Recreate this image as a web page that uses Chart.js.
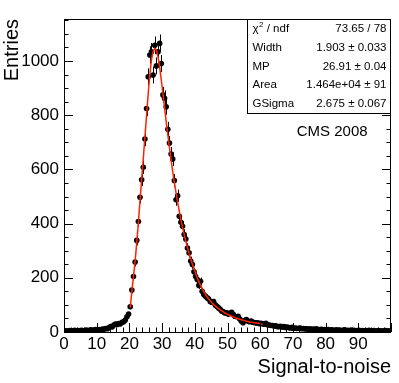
<!DOCTYPE html>
<html>
<head>
<meta charset="utf-8">
<script src="https://cdn.jsdelivr.net/npm/chart.js@4.4.1/dist/chart.umd.min.js"></script>
<style>
  html, body { margin: 0; padding: 0; background: #fff; }
  canvas { display: block; }
</style>
</head>
<body>
<canvas id="chart" width="399" height="383"></canvas>
<script>
// histogram: 200 bins of width 0.5 between 0 and 100
const xMin = 0;
const binWidth = 0.5;
const counts = [
    3, 4, 2, 5, 3, 4, 6, 3, 5, 4, 6, 5, 4, 7, 5, 6, 8, 6, 7, 9,
    7, 9, 8, 11, 10, 13, 12, 16, 20, 19, 26, 29, 28, 31, 30, 36, 38, 44, 56, 66,
    93, 155, 205, 258, 338, 408, 497, 562, 608, 712, 825, 942, 1022, 1034, 948, 1058, 982, 1034, 1065, 991,
    875, 862, 831, 748, 697, 657, 638, 559, 488, 503, 427, 405, 390, 360, 343, 310, 292, 262, 249, 222,
    205, 194, 172, 187, 150, 138, 132, 126, 122, 112, 110, 112, 100, 95, 89, 84, 77, 75, 70, 71,
    66, 70, 73, 65, 58, 56, 58, 48, 40, 34, 42, 46, 40, 38, 40, 36, 35, 33, 34, 31,
    32, 30, 29, 32, 27, 26, 24, 24, 22, 23, 20, 20, 21, 18, 20, 17, 18, 16, 15, 17,
    14, 15, 13, 14, 15, 12, 13, 11, 12, 10, 12, 9, 11, 10, 12, 8, 9, 10, 8, 9,
    7, 9, 6, 8, 7, 5, 8, 6, 7, 5, 6, 8, 5, 6, 4, 7, 5, 6, 4, 5,
    6, 4, 5, 3, 5, 4, 6, 3, 4, 5, 3, 4, 5, 3, 4, 3, 5, 3, 4, 3
];

// fitted Landau x Gauss curve, sampled at bin centres from bin 40 (x = 20.25)
const fitFirstBin = 40;
const fitValues = [
    90, 150, 205, 262, 330, 405, 485, 565, 640, 720,
    800, 880, 950, 1005, 1035, 1046, 1040, 1015, 978, 930,
    880, 828, 776, 727, 680, 635, 592, 552, 514, 479,
    446, 415, 386, 360, 335, 312, 290, 270, 251, 233,
    216, 200, 186, 172, 160, 149, 139, 130, 122, 114,
    107, 101, 96, 91, 86, 82, 78, 74, 70, 67,
    64, 61, 58, 56, 53, 51, 49, 47, 45, 43,
    42, 40, 39, 37, 36, 35, 34, 33, 32, 31,
    30, 29
];

const xTickLabels = ['0', '10', '20', '30', '40', '50', '60', '70', '80', '90'];
const yTickLabels = ['0', '200', '400', '600', '800', '1000'];

const statNames = ['\u03C7', 'Width', 'MP', 'Area', 'GSigma'];
const statValues = ['73.65 / 78', '1.903 \u00B1 0.033', '26.91 \u00B1 0.04', '1.464e+04 \u00B1 91', '2.675 \u00B1 0.067'];

const FONT = '"Liberation Sans", Arial, Helvetica, sans-serif';

function binCentre(i) {
    return xMin + (i + 0.5) * binWidth;
}

const histPoints = counts.map((c, i) => ({ x: binCentre(i), y: c }));
const fitPoints = fitValues.map((v, i) => ({ x: binCentre(fitFirstBin + i), y: v }));

// vertical sqrt(N) error bars, drawn under the markers
const errorBars = {
    id: 'errorBars',
    beforeDatasetsDraw(chart) {
        const ctx = chart.ctx;
        const xs = chart.scales.x, ys = chart.scales.y;
        ctx.save();
        ctx.strokeStyle = '#000';
        ctx.lineWidth = 1;
        ctx.beginPath();
        histPoints.forEach(p => {
            const e = Math.sqrt(p.y);
            const px = Math.round(xs.getPixelForValue(p.x)) + 0.5;
            ctx.moveTo(px, ys.getPixelForValue(Math.max(0, p.y - e)));
            ctx.lineTo(px, ys.getPixelForValue(p.y + e));
        });
        ctx.stroke();
        ctx.restore();
    }
};

// ROOT style frame with inward ticks, stats box and label
const rootFrame = {
    id: 'rootFrame',
    afterDraw(chart) {
        const ctx = chart.ctx;
        const a = chart.chartArea;
        const xs = chart.scales.x, ys = chart.scales.y;
        ctx.save();
        ctx.strokeStyle = '#000';
        ctx.lineWidth = 1;
        ctx.beginPath();
        // x ticks along the bottom
        for (let v = 0; v <= 100; v += 2) {
            const px = Math.round(xs.getPixelForValue(v)) + 0.5;
            const len = v % 10 === 0 ? 9 : 4.5;
            ctx.moveTo(px, a.bottom);
            ctx.lineTo(px, a.bottom - len);
        }
        // y ticks on left and right
        for (let v = 0; v <= 1150; v += 50) {
            const py = Math.round(ys.getPixelForValue(v)) + 0.5;
            const len = v % 200 === 0 ? 9 : 4.5;
            ctx.moveTo(a.left, py);
            ctx.lineTo(a.left + len, py);
            ctx.moveTo(a.right, py);
            ctx.lineTo(a.right - len, py);
        }
        ctx.stroke();
        ctx.strokeRect(Math.round(a.left) + 0.5, Math.round(a.top) + 0.5,
            Math.round(a.right - a.left) - 1, Math.round(a.bottom - a.top));

        // stats box
        const bw = 144, bh = 94;
        const bx = Math.round(a.right - bw) + 0.5, by = Math.round(a.top) + 0.5;
        ctx.fillStyle = '#fff';
        ctx.fillRect(bx, by, bw - 1, bh);
        ctx.strokeRect(bx, by, bw - 1, bh);
        ctx.fillStyle = '#000';
        ctx.textBaseline = 'middle';
        const rowH = bh / 5;
        statNames.forEach((name, i) => {
            const ty = by + rowH * (i + 0.5);
            ctx.font = '11.5px ' + FONT;
            ctx.textAlign = 'left';
            ctx.fillText(name, bx + 5, ty);
            if (i === 0) {
                const w = ctx.measureText(name).width;
                ctx.font = '8px ' + FONT;
                ctx.fillText('2', bx + 5 + w + 0.5, ty - 4);
                ctx.font = '11.5px ' + FONT;
                ctx.fillText(' / ndf', bx + 5 + w + 5, ty);
            }
            ctx.textAlign = 'right';
            ctx.fillText(statValues[i], bx + bw - 5, ty);
        });

        // experiment label
        ctx.font = '15px ' + FONT;
        ctx.textAlign = 'center';
        ctx.fillText('CMS 2008', a.left + (a.right - a.left) * 0.82, a.top + (a.bottom - a.top) * 0.36);
        ctx.restore();
    }
};

new Chart(document.getElementById('chart'), {
    type: 'scatter',
    data: {
        datasets: [{
            label: 'fit',
            type: 'line',
            data: fitPoints,
            borderColor: '#ff2200',
            borderWidth: 1.5,
            pointRadius: 0,
            fill: false,
            tension: 0,
            order: 0
        }, {
            label: 'entries',
            data: histPoints,
            backgroundColor: '#000',
            borderColor: '#000',
            pointRadius: 2.8,
            pointBorderWidth: 0,
            order: 1
        }]
    },
    options: {
        responsive: false,
        animation: false,
        devicePixelRatio: 1,
        layout: { padding: { top: 19, right: 8, left: 0, bottom: 0 } },
        plugins: {
            legend: { display: false },
            tooltip: { enabled: false }
        },
        scales: {
            x: {
                type: 'linear',
                min: 0,
                max: 100,
                afterFit: s => { s.height = 51; },
                grid: { display: false, drawTicks: false },
                border: { display: false },
                ticks: {
                    stepSize: 10,
                    autoSkip: false,
                    maxRotation: 0,
                    padding: 2,
                    color: '#000',
                    font: { family: FONT, size: 17 },
                    callback: (v, i) => xTickLabels[i] ?? ''
                },
                title: {
                    display: true,
                    text: 'Signal-to-noise',
                    align: 'end',
                    color: '#000',
                    font: { family: FONT, size: 20 },
                    padding: { top: 0, bottom: 4 }
                }
            },
            y: {
                type: 'linear',
                min: 0,
                max: 1155,
                afterFit: s => { s.width = 64; },
                grid: { display: false, drawTicks: false },
                border: { display: false },
                ticks: {
                    stepSize: 200,
                    includeBounds: false,
                    padding: 5,
                    color: '#000',
                    font: { family: FONT, size: 17 },
                    callback: (v, i) => yTickLabels[i] ?? ''
                },
                title: {
                    display: true,
                    text: 'Entries',
                    align: 'end',
                    color: '#000',
                    font: { family: FONT, size: 20 },
                    padding: { top: 0, bottom: 0 }
                }
            }
        }
    },
    plugins: [errorBars, rootFrame]
});
</script>
</body>
</html>
